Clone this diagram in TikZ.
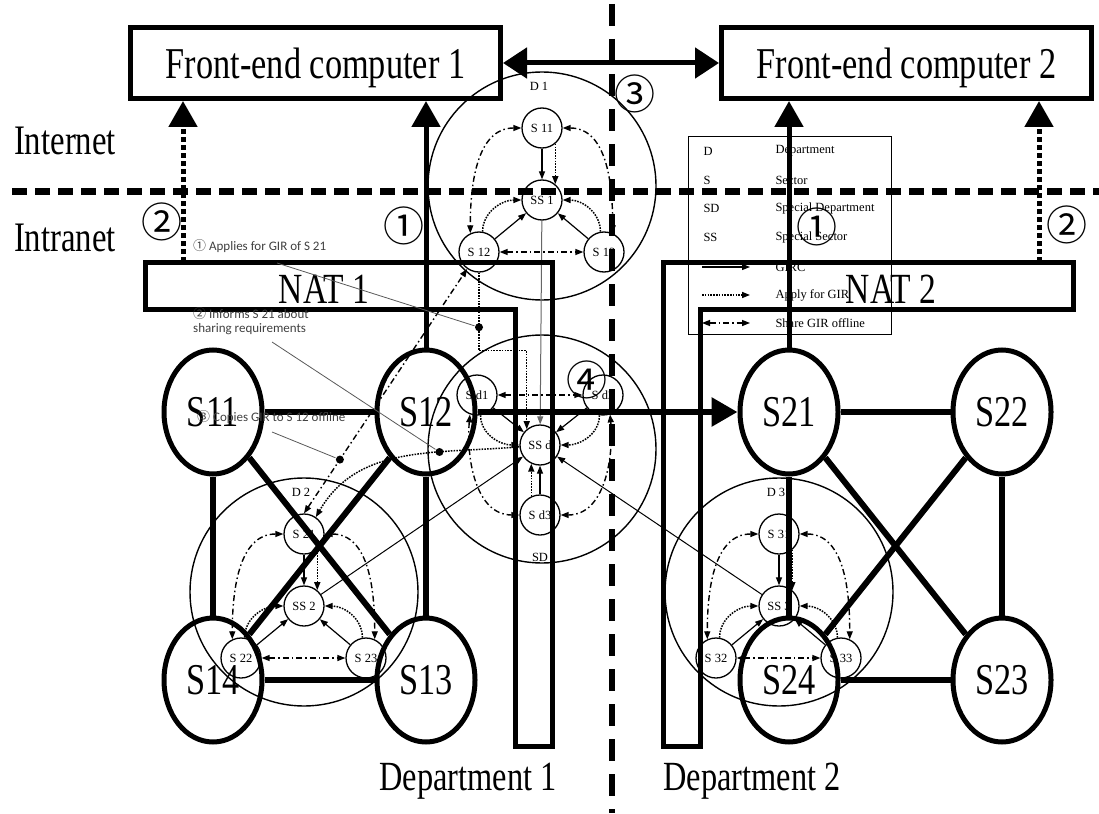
\documentclass[tikz,border=0pt]{standalone}
\usepackage{fontspec}
\setmainfont{Liberation Serif}
\newfontfamily\narrowfont[FakeStretch=0.78]{Liberation Serif}
\newfontfamily\notefont{Carlito}
\newfontfamily\symfont{Noto Sans CJK JP}
\usetikzlibrary{shapes.geometric}
\usetikzlibrary{arrows.meta}

\tikzset{
  frontbox/.style={draw, line width=5pt, minimum width=370pt, minimum height=71pt, inner sep=0pt, text depth=0pt, font=\fontsize{44}{44}\narrowfont},
  sectornode/.style={ellipse, draw, line width=5pt, minimum width=98pt, minimum height=124pt, inner sep=0pt, font=\fontsize{44}{44}\narrowfont},
  dept/.style={circle, draw, line width=1.4pt, minimum size=228pt, inner sep=0pt},
  sub/.style={circle, draw, line width=1.3pt, minimum size=40pt, inner sep=0pt, font=\fontsize{12.5}{12.5}\selectfont},
  tag/.style={font=\fontsize{12.5}{12.5}\selectfont},
  bigtext/.style={font=\fontsize{42}{42}\narrowfont},
  num/.style={font=\fontsize{41}{41}\symfont, inner sep=0pt},
  note/.style={font=\fontsize{13}{14}\notefont, text=black!75, align=left, anchor=west, inner sep=0pt},
  pointer/.style={line width=0.8pt, black!65},
  blackdot/.style={circle, fill=black, minimum size=8pt, inner sep=0pt},
  thickline/.style={line width=6pt},
  bigtip/.style={-{Triangle[length=26pt,width=28pt]}},
  girc/.style={-{Triangle[length=8pt,width=6pt]}, line width=1.2pt},
  apply/.style={girc, dash pattern=on 1.6pt off 1.2pt, line width=1.5pt},
  share/.style={{Triangle[length=8pt,width=6pt]}-{Triangle[length=8pt,width=6pt]}, line width=1.4pt, dash pattern=on 6pt off 3pt on 1.5pt off 3pt},
  zone/.style={line width=7pt, dash pattern=on 15pt off 8pt},
}

\begin{document}
\begin{tikzpicture}[x=1pt, y=1pt]
        \useasboundingbox (0,0) rectangle (1099,-813);
        \node[draw, line width=1.2pt, minimum width=203pt, minimum height=198pt, inner sep=0pt] (key) at (790,-235.5) {};
        \foreach \k/\v/\y in {D/Department/-151, S/Sector/-180, SD/Special Department/-208, SS/Special Sector/-237}
           \node[tag, anchor=west] (k\k) at (700,\y) {\k};
        \foreach \k/\v/\y in {D/Department/-151, S/Sector/-180, SD/Special Department/-208, SS/Special Sector/-237}
           \node[tag, anchor=west] (v\k) at (772,\y) {\v};
        \foreach \s/\t/\y [count=\i] in {girc/GIRC/-267, apply/Apply for GIR/-295, share/Share GIR offline/-323} {
           \coordinate (ka\i) at (702,\y);
           \coordinate (kb\i) at (750,\y);
           \draw[\s] (ka\i) -- (kb\i);
           \node[tag, anchor=west] (kt\i) at (772,\y) {\t};
        }
        \foreach \d/\cx/\cy/\ta/\ma/\la/\ra in {1/542/-186/S 11/SS 1/S 12/S 13, 2/304/-592/S 21/SS 2/S 22/S 23, 3/779/-592/S 31/SS 3/S 32/S 33} {
           \node[dept] (D\d) at (\cx,\cy) {};
           \node[tag] (DL\d) at (\cx-3,\cy+100) {D \d};
           \node[sub] (t\d) at (\cx,\cy+58) {\ta};
           \node[sub] (m\d) at (\cx,\cy-14) {\ma};
           \node[sub] (l\d) at (\cx-63,\cy-66) {\la};
           \node[sub] (r\d) at (\cx+62,\cy-66) {\ra};
           \draw[girc] (t\d) -- (m\d);
           \draw[apply] (t\d.-50) -- (m\d.50);
           \draw[girc] (l\d) -- (m\d);
           \draw[girc] (r\d) -- (m\d);
           \draw[share] (l\d) -- (r\d);
           \draw[share] (t\d.west) to[out=180, in=90] (l\d.115);
           \draw[share] (t\d.east) to[out=0, in=90] (r\d.65);
           \draw[apply] (l\d.80) to[out=90, in=180] (m\d.west);
           \draw[apply] (r\d.100) to[out=90, in=0] (m\d.east);
        }
        \node[dept] (SD) at (542,-449) {};
        \node[tag] (SDL) at (540,-557) {SD};
        \node[sub] (ssd) at (540,-445) {SS d};
        \node[sub] (sd1) at (477,-395) {S d1};
        \node[sub] (sd2) at (603,-395) {S d2};
        \node[sub] (sd3) at (540,-515) {S d3};
        \draw[share] (sd1) -- (sd2);
        \draw[girc] (sd1) -- (ssd);
        \draw[girc] (sd2) -- (ssd);
        \draw[girc] (sd3) -- (ssd);
        \draw[apply] (sd1.-80) to[out=-90, in=180] (ssd.west);
        \draw[apply] (sd2.-100) to[out=-90, in=0] (ssd.east);
        \draw[apply] (sd3.115) -- (ssd.-115);
        \draw[share] (sd1.-110) to[out=-95, in=180] (sd3.west);
        \draw[share] (sd2.-70) to[out=-85, in=0] (sd3.east);
        \draw[girc, line width=1pt, black!60] (m1) -- (ssd);
        \draw[girc, line width=1pt] (m2) -- (ssd);
        \draw[girc, line width=1pt] (m3) -- (ssd);
        \draw[apply] (l1.south) -- node[blackdot, pos=0.7] (dot1) {} ++(0,-78) -| (ssd.130);
        \draw[apply] (ssd.185) to[out=185, in=60] node[blackdot, pos=0.33] (dot2) {} (t2.55);
        \draw[share] (t2.north) -- node[blackdot, pos=0.22] (dot3) {} (l1.235);
        \draw[line width=5pt] (145,-262) -- (552,-262) -- (552,-746) -- (515,-746) -- (515,-309) -- (145,-309) -- cycle;
        \draw[line width=5pt] (663,-262) -- (1073,-262) -- (1073,-309) -- (700,-309) -- (700,-746) -- (663,-746) -- cycle;
        \node[font=\fontsize{43}{43}\narrowfont] (nat1) at (324,-289) {NAT 1};
        \node[font=\fontsize{43}{43}\narrowfont] (nat2) at (891,-289) {NAT 2};
        \coordinate (n1) at (183,-262);
        \coordinate (n2) at (1039,-262);
        \node[frontbox] (fe1) at (315.5,-63) {Front-end computer 1};
        \node[frontbox] (fe2) at (906.5,-63) {Front-end computer 2};
        \draw[line width=5pt, {Triangle[length=24pt,width=30pt]}-{Triangle[length=24pt,width=30pt]}] (fe1) -- (fe2);
        \node[bigtext] (inet) at (65,-141) {Internet};
        \node[bigtext] (intra) at (65,-238) {Intranet};
        \node[sectornode] (S11) at (213,-412) {S11};
        \node[sectornode] (S12) at (426,-412) {S12};
        \node[sectornode] (S21) at (789,-412) {S21};
        \node[sectornode] (S22) at (1002,-412) {S22};
        \node[sectornode] (S14) at (213,-680) {S14};
        \node[sectornode] (S13) at (426,-680) {S13};
        \node[sectornode] (S24) at (789,-680) {S24};
        \node[sectornode] (S23) at (1002,-680) {S23};
        \draw[thickline] (S11) -- (S12);
        \draw[thickline] (S11) -- (S14);
        \draw[thickline] (S12) -- (S13);
        \draw[thickline] (S11) -- (S13);
        \draw[thickline] (S12) -- (S14);
        \draw[thickline] (S14) -- (S13);
        \draw[thickline] (S21) -- (S22);
        \draw[thickline] (S21) -- (S24);
        \draw[thickline] (S22) -- (S23);
        \draw[thickline] (S21) -- (S23);
        \draw[thickline] (S22) -- (S24);
        \draw[thickline] (S24) -- (S23);
        \draw[thickline, bigtip] (S12) -- (S21);
        \draw[line width=5pt, bigtip] (S12.north) -- (S12.north |- fe1.south);
        \draw[line width=5pt, bigtip] (S21.north) -- (S21.north |- fe2.south);
        \draw[line width=5pt, bigtip, dash pattern=on 5pt off 3pt] (n1) -- (n1 |- fe1.south);
        \draw[line width=5pt, bigtip, dash pattern=on 5pt off 3pt] (n2) -- (n2 |- fe2.south);
        \node[font=\fontsize{41.5}{41.5}\narrowfont] (dep1) at (468,-781) {Department 1};
        \node[font=\fontsize{41.5}{41.5}\narrowfont] (dep2) at (752,-781) {Department 2};
        \coordinate (h1) at (12,-191);
        \coordinate (h2) at (1099,-191);
        \draw[zone] (h1) -- (h2);
        \coordinate (v1) at (612,-4);
        \coordinate (v2) at (612,-813);
        \draw[zone, line width=6pt, dash pattern=on 22pt off 13pt] (v1) -- (v2);
        \node[num] (c2a) at (162,-222) {②};
        \node[num] (c1a) at (404,-226) {①};
        \node[num] (c1b) at (817,-227) {①};
        \node[num] (c2b) at (1067,-225) {②};
        \node[num] (c3) at (635,-94) {③};
        \node[num] (c4) at (587,-380) {④};
        \node[note] (note1) at (193,-246) {{\symfont ①} Applies for GIR of S 21};
        \node[note] (note2) at (193,-321) {{\symfont ②} Informs S 21 about\\sharing requirements};
        \node[note] (note3) at (197,-417) {{\symfont ③} Copies GIR to S 12 offline};
        \coordinate (p1) at (277,-263);
        \coordinate (p2) at (272,-342);
        \coordinate (p3) at (272,-432);
        \draw[pointer] (p1) -- (dot1);
        \draw[pointer] (p2) -- (dot2);
        \draw[pointer] (p3) -- (dot3);
      \end{tikzpicture}
\end{document}
